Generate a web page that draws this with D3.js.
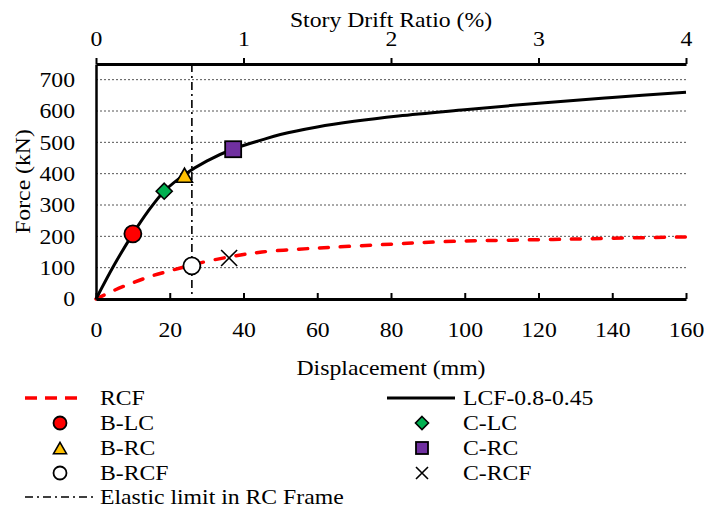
<!DOCTYPE html>
<html>
<head>
<meta charset="utf-8">
<script src="https://cdn.jsdelivr.net/npm/d3@7"></script>
<style>
  html, body { margin: 0; padding: 0; background: #fff; }
</style>
</head>
<body>
<svg id="chart" width="704" height="513"></svg>
<script>
// Pushover curves: displacement (mm) vs base force (kN)
const rcfDisp  = [0, 5, 10, 15, 20, 26, 30, 38, 45, 55, 64, 80, 88, 100, 124, 140, 160];
const rcfForce = [0, 28, 52, 73, 90, 108, 120, 138, 150, 159, 165, 175, 180, 185, 190, 194, 198];

const lcfDisp  = [0, 5, 10, 14, 18.5, 24, 30, 37, 45, 50, 60, 70, 82, 100, 120, 140, 160];
const lcfForce = [0, 110, 208, 278, 344, 397, 440, 478, 508, 525, 549, 567, 584, 604, 625, 643, 660];

// Damage-state points
const pointNames = ["B-LC", "C-LC", "B-RC", "C-RC", "B-RCF", "C-RCF"];
const pointDisp  = [10, 18.5, 24, 37.2, 26, 36.1];
const pointForce = [208, 344, 395, 478, 106, 131];

// Elastic limit of the RC frame (mm)
const elasticLimit = 26;

// Axis ticks
const xTicks = [0, 20, 40, 60, 80, 100, 120, 140, 160];
const yTicks = [0, 100, 200, 300, 400, 500, 600, 700];
const driftTicks = [0, 1, 2, 3, 4];
const gridTicks = [100, 200, 300, 400, 500, 600, 700];

// Marker appearance per point
const pointStyle = {
  "B-LC":  { shape: "circle",   fill: "#FF0000" },
  "C-LC":  { shape: "diamond",  fill: "#00B050" },
  "B-RC":  { shape: "triangle", fill: "#FFC000" },
  "C-RC":  { shape: "square",   fill: "#7030A0" },
  "B-RCF": { shape: "circle",   fill: "#FFFFFF" },
  "C-RCF": { shape: "cross",    fill: "none" }
};

const FONT = "Liberation Serif";
const FONT_SIZE = 21;
const TEXT_STRETCH = 1.13;

// Widen text along its baseline about its anchor point
function stretch(sel) {
  sel.each(function () {
    const t = d3.select(this);
    const ax = +(t.attr("x") || 0);
    const prev = t.attr("transform") || "";
    t.attr("transform", `${prev} translate(${ax},0) scale(${TEXT_STRETCH},1) translate(${-ax},0)`);
  });
}

const svg = d3.select("#chart");
const plotLeft = 96, plotRight = 686, plotTop = 64, plotBottom = 299;

const x = d3.scaleLinear().domain([0, 160]).range([plotLeft, plotRight]);
const y = d3.scaleLinear().domain([0, 750]).range([plotBottom, plotTop]);
const drift = d3.scaleLinear().domain([0, 4]).range([plotLeft, plotRight]);

// Horizontal dotted gridlines
svg.append("g").selectAll("line").data(gridTicks).join("line")
  .attr("x1", plotLeft).attr("x2", plotRight)
  .attr("y1", d => y(d)).attr("y2", d => y(d))
  .attr("stroke", "#555").attr("stroke-width", 1)
  .attr("stroke-dasharray", "2,2");

// Elastic limit line (dash-dot)
svg.append("line")
  .attr("x1", x(elasticLimit)).attr("x2", x(elasticLimit))
  .attr("y1", plotTop).attr("y2", plotBottom)
  .attr("stroke", "#000").attr("stroke-width", 1.6)
  .attr("stroke-dasharray", "8,4,2,4");

const line = d3.line().curve(d3.curveCatmullRom.alpha(0.5))
  .x(d => x(d[0])).y(d => y(d[1]));

// RCF curve
svg.append("path")
  .datum(d3.zip(rcfDisp, rcfForce))
  .attr("d", line)
  .attr("fill", "none").attr("stroke", "#FF0000")
  .attr("stroke-width", 3.5).attr("stroke-linecap", "round")
  .attr("stroke-dasharray", "9,12");

// LCF-0.8-0.45 curve
svg.append("path")
  .datum(d3.zip(lcfDisp, lcfForce))
  .attr("d", line)
  .attr("fill", "none").attr("stroke", "#000")
  .attr("stroke-width", 3);

// Marker drawing helper
function drawMarker(g, shape, fill, cx, cy, s) {
  const stroke = "#000";
  if (shape === "circle") {
    g.append("circle").attr("cx", cx).attr("cy", cy).attr("r", s)
      .attr("fill", fill).attr("stroke", stroke).attr("stroke-width", 1.8);
  } else if (shape === "diamond") {
    g.append("path")
      .attr("d", `M${cx},${cy - s}L${cx + s},${cy}L${cx},${cy + s}L${cx - s},${cy}Z`)
      .attr("fill", fill).attr("stroke", stroke).attr("stroke-width", 1.6);
  } else if (shape === "triangle") {
    const h = s * 1.75, w = s * 1.0;
    g.append("path")
      .attr("d", `M${cx},${cy - h / 2}L${cx + w},${cy + h / 2}L${cx - w},${cy + h / 2}Z`)
      .attr("fill", fill).attr("stroke", stroke).attr("stroke-width", 1.6)
      .attr("stroke-linejoin", "miter");
  } else if (shape === "square") {
    g.append("rect").attr("x", cx - s).attr("y", cy - s)
      .attr("width", 2 * s).attr("height", 2 * s)
      .attr("fill", fill).attr("stroke", stroke).attr("stroke-width", 1.8);
  } else if (shape === "cross") {
    g.append("path")
      .attr("d", `M${cx - s},${cy - s}L${cx + s},${cy + s}M${cx - s},${cy + s}L${cx + s},${cy - s}`)
      .attr("fill", "none").attr("stroke", stroke).attr("stroke-width", 1.6);
  }
}

const markerSize = { circle: 8.5, diamond: 8, triangle: 8, square: 8, cross: 8 };
const gPts = svg.append("g");
pointNames.forEach((n, i) => {
  const st = pointStyle[n];
  drawMarker(gPts, st.shape, st.fill, x(pointDisp[i]), y(pointForce[i]), markerSize[st.shape]);
});

// Axes
const xAxis = svg.append("g").attr("transform", `translate(0,${plotBottom})`)
  .call(d3.axisBottom(x).tickValues(xTicks).tickSize(-6).tickSizeOuter(0).tickPadding(23));
const topAxis = svg.append("g").attr("transform", `translate(0,${plotTop})`)
  .call(d3.axisTop(drift).tickValues(driftTicks).tickSize(6).tickSizeOuter(0).tickPadding(12).tickFormat(d3.format("d")));
const yAxis = svg.append("g").attr("transform", `translate(${plotLeft},0)`)
  .call(d3.axisLeft(y).tickValues(yTicks).tickSize(0).tickSizeOuter(0).tickPadding(21));

[xAxis, topAxis, yAxis].forEach(a => {
  a.attr("font-family", FONT).attr("font-size", FONT_SIZE);
  a.selectAll("text").attr("fill", "#000").call(stretch);
  a.selectAll(".tick line").attr("stroke", "#000").attr("stroke-width", 2);
});
xAxis.select(".domain").attr("stroke", "#000").attr("stroke-width", 3);
topAxis.select(".domain").attr("stroke", "#000").attr("stroke-width", 3);
yAxis.select(".domain").attr("stroke", "#000").attr("stroke-width", 2.5);

// Axis titles
const titles = svg.append("g").attr("font-family", FONT).attr("font-size", FONT_SIZE).attr("fill", "#000");
titles.append("text").attr("x", (plotLeft + plotRight) / 2).attr("y", 27)
  .attr("text-anchor", "middle").text("Story Drift Ratio (%)").call(stretch);
titles.append("text").attr("x", (plotLeft + plotRight) / 2).attr("y", 375)
  .attr("text-anchor", "middle").text("Displacement (mm)").call(stretch);
titles.append("text")
  .attr("transform", `translate(30,${(plotTop + plotBottom) / 2}) rotate(-90)`)
  .attr("text-anchor", "middle").text("Force (kN)").call(stretch);

// Legend
const legendRows = [398, 423, 448, 473, 497];
const leg = svg.append("g").attr("font-family", FONT).attr("font-size", FONT_SIZE).attr("fill", "#000");
const legText = (tx, ty, label) =>
  leg.append("text").attr("x", tx).attr("y", ty + 7).text(label).call(stretch);

// Left column
leg.append("line").attr("x1", 25).attr("x2", 83).attr("y1", legendRows[0]).attr("y2", legendRows[0])
  .attr("stroke", "#FF0000").attr("stroke-width", 3.5).attr("stroke-dasharray", "12,8");
legText(100, legendRows[0], "RCF");
const legendMarkerSize = { circle: 6.5, diamond: 6.5, triangle: 6.5, square: 6, cross: 6 };
["B-LC", "B-RC", "B-RCF"].forEach((n, i) => {
  const st = pointStyle[n];
  drawMarker(leg, st.shape, st.fill, 60, legendRows[i + 1], legendMarkerSize[st.shape]);
  legText(100, legendRows[i + 1], n);
});
leg.append("line").attr("x1", 25).attr("x2", 96).attr("y1", legendRows[4]).attr("y2", legendRows[4])
  .attr("stroke", "#000").attr("stroke-width", 1.6).attr("stroke-dasharray", "8,4,2,4");
legText(100, legendRows[4], "Elastic limit in RC Frame");

// Right column
leg.append("line").attr("x1", 387).attr("x2", 455).attr("y1", legendRows[0]).attr("y2", legendRows[0])
  .attr("stroke", "#000").attr("stroke-width", 3);
legText(463, legendRows[0], "LCF-0.8-0.45");
["C-LC", "C-RC", "C-RCF"].forEach((n, i) => {
  const st = pointStyle[n];
  drawMarker(leg, st.shape, st.fill, 422, legendRows[i + 1], legendMarkerSize[st.shape]);
  legText(463, legendRows[i + 1], n);
});
</script>
</body>
</html>
